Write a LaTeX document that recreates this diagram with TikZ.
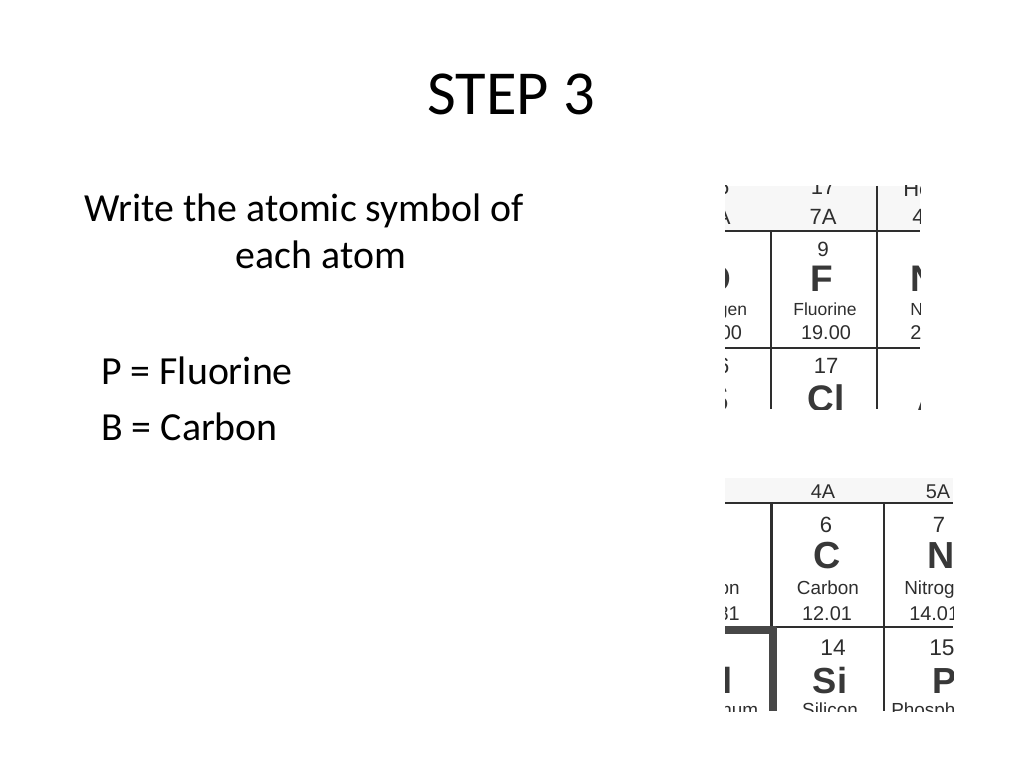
\documentclass[tikz,border=0pt]{standalone}
\usepackage{fontspec}
\setmainfont{Carlito}
\newfontfamily\scanfont{Liberation Sans}
\begin{document}
\begin{tikzpicture}[x=0.703125pt,y=-0.703125pt,
  txt/.style={inner sep=0pt,anchor=base,text=black},
  sc/.style={inner sep=0pt,anchor=base,text=black!82,font=\scanfont\fontsize{#1}{#1}\selectfont},
  scb/.style={inner sep=0pt,anchor=base,text=black!78,font=\scanfont\bfseries\fontsize{#1}{#1}\selectfont},
  gridline/.style={draw=black!82,line width=1.7pt},
  thickline/.style={draw=black!72,line width=5.2pt},
  header/.style={fill=black!3}]
\useasboundingbox (0,0) rectangle (1024,768);
\fill[white] (0,0) rectangle (1024,768);

% slide text
\node[txt,font=\fontsize{44}{53}\selectfont] (title) at (511,115) {STEP 3};
\node[txt,font=\fontsize{28}{34}\selectfont] (l1) at (304,222) {Write the atomic symbol of};
\node[txt,font=\fontsize{28}{34}\selectfont] (l2) at (321,269) {each atom};
\node[txt,anchor=base west,font=\fontsize{28}{34}\selectfont] (p) at (101,384) {P = Fluorine};
\node[txt,anchor=base west,font=\fontsize{28}{34}\selectfont] (b) at (101,440) {B = Carbon};

% scan 1 : fluorine
\begin{scope}
\clip (725,186) rectangle (920,409);
\fill[header] (725,186) rectangle (920,231);
\node[sc=15.5] (a16) at (717,195) {16};
\node[sc=15.5] (a6a) at (717,225) {6A};
\node[sc=15.5] (a17) at (823,195) {17};
\node[sc=15.5] (a7a) at (823,225) {7A};
\node[sc=15.5,anchor=base west] (ahe) at (903,197) {He};
\node[sc=15.5,anchor=base west] (ahew) at (912,225) {4.003};
\draw[gridline] (725,231) -- (920,231);
\draw[gridline] (771,231) -- (771,409);
\draw[gridline] (877,186) -- (877,409);
\draw[gridline] (725,348) -- (920,348);
% oxygen (cut)
\node[sc=14.5] (o8) at (717,257) {8};
\node[scb=26] (osym) at (717,292) {O};
\node[sc=12.3] (oname) at (717,316) {Oxygen};
\node[sc=14] (ow) at (717,340) {16.00};
% fluorine
\node[sc=14.5] (f9) at (823,257) {9};
\node[scb=26] (fsym) at (822,292) {F};
\node[sc=12.3] (fname) at (825,316) {Fluorine};
\node[sc=14] (fw) at (826,340) {19.00};
% neon (cut)
\node[scb=26,anchor=base west] (nesym) at (910,292) {Ne};
\node[sc=12.3,anchor=base west] (nename) at (910,316) {Neon};
\node[sc=14,anchor=base west] (new) at (910,340) {20.18};
% row 3
\node[sc=15.5] (s16) at (717,373) {16};
\node[scb=26] (ssym) at (717,411) {S};
\node[sc=15.5] (cl17) at (826,373) {17};
\node[scb=26] (clsym) at (826,411) {Cl};
\node[scb=26,anchor=base west] (arsym) at (916,413) {Ar};
\end{scope}

% scan 2 : carbon
\begin{scope}
\clip (725,478) rectangle (953,711);
\fill[header] (725,478) rectangle (953,503);
\node[sc=14] (h3a) at (713,498) {3A};
\node[sc=14] (h4a) at (823,498) {4A};
\node[sc=14] (h5a) at (938,498) {5A};
\draw[gridline] (725,503) -- (953,503);
\draw[gridline] (771.5,503) -- (771.5,627);
\draw[gridline] (884,503) -- (884,711);
\draw[gridline] (771,627) -- (953,627);
\draw[thickline] (725,630) -- (776,630);
\draw[thickline] (773,627) -- (773,711);
% boron (cut)
\node[sc=13.3,anchor=base east] (bname) at (740,594) {Boron};
\node[sc=14,anchor=base east] (bw) at (740,620) {10.81};
% carbon
\node[sc=15.5] (c6) at (826,532) {6};
\node[scb=26.5] (csym) at (827,568) {C};
\node[sc=13.3] (cname) at (828,594) {Carbon};
\node[sc=14] (cw) at (827,620) {12.01};
% nitrogen (cut)
\node[sc=15.5] (n7) at (939,532) {7};
\node[scb=26.5] (nsym) at (941,568) {N};
\node[sc=13.3,anchor=base west] (nname) at (904,594) {Nitrogen};
\node[sc=14,anchor=base west] (nw) at (909,620) {14.01};
% row 3
\node[sc=16] (al13) at (713,655) {13};
\node[scb=25.5] (alsym) at (714,693) {Al};
\node[sc=13.3] (alname) at (716,716) {Aluminum};
\node[sc=16] (si14) at (833,655) {14};
\node[scb=25.5] (sisym) at (830,693) {Si};
\node[sc=13.3] (siname) at (830,716) {Silicon};
\node[sc=16,anchor=base west] (p15) at (929,655) {15};
\node[scb=25.5,anchor=base west] (psym) at (932,693) {P};
\node[sc=13.3,anchor=base west] (pname) at (891,716) {Phosphorus};
\end{scope}
\end{tikzpicture}
\end{document}
